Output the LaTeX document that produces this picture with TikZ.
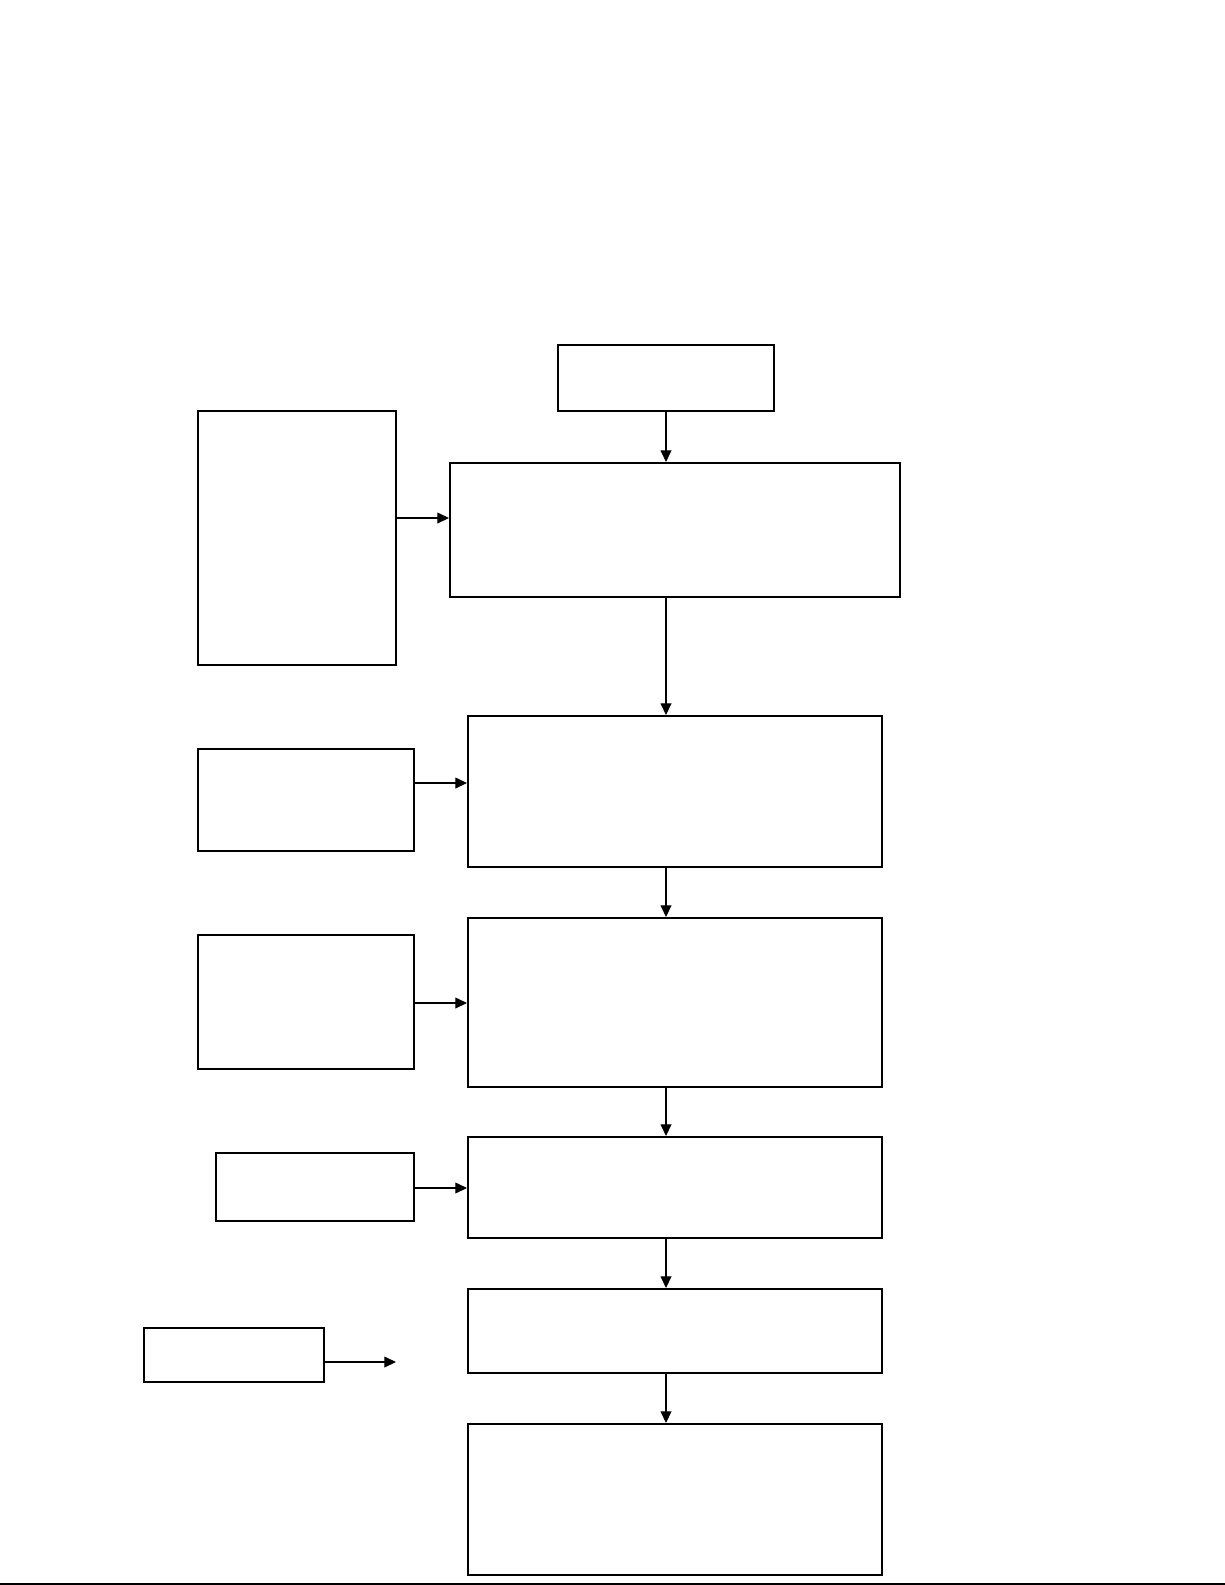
\documentclass[tikz,border=0pt]{standalone}
\usetikzlibrary{arrows.meta,fit}
\begin{document}
\begin{tikzpicture}[x=0.6pt,y=-0.6pt,
  box/.style={draw,line width=1.2pt,inner sep=0pt,rectangle},
  arr/.style={line width=0.7pt,-{Triangle[length=7pt,width=6.5pt]}}]
\useasboundingbox (0,0) rectangle (1225,1585);
% boxes
\node[box,fit={(558,345) (774,411)}] (top) {};
\node[box,fit={(450,463) (900,597)}] (A) {};
\node[box,fit={(198,411) (396,665)}] (L1) {};
\node[box,fit={(468,716) (882,867)}] (B) {};
\node[box,fit={(198,749) (414,851)}] (L2) {};
\node[box,fit={(468,918) (882,1087)}] (C) {};
\node[box,fit={(198,935) (414,1069)}] (L3) {};
\node[box,fit={(468,1137) (882,1238)}] (D) {};
\node[box,fit={(216,1153) (414,1221)}] (L4) {};
\node[box,fit={(468,1289) (882,1373)}] (E) {};
\node[box,fit={(468,1424) (882,1575)}] (F) {};
\node[box,fit={(144,1328) (324,1382)}] (L5) {};
% vertical arrows
\coordinate (vx) at (666,0);
\draw[arr] (top.south) -- (vx |- A.north);
\draw[arr] (vx |- A.south) -- (vx |- B.north);
\draw[arr] (vx |- B.south) -- (vx |- C.north);
\draw[arr] (vx |- C.south) -- (vx |- D.north);
\draw[arr] (vx |- D.south) -- (vx |- E.north);
\draw[arr] (vx |- E.south) -- (vx |- F.north);
% horizontal arrows
\coordinate (h1) at (0,518);
\coordinate (h2) at (0,783);
\coordinate (h3) at (0,1003);
\coordinate (h4) at (0,1188);
\coordinate (h5) at (0,1362);
\coordinate (free) at (396,1362);
\draw[arr] (L1.east |- h1) -- (A.west |- h1);
\draw[arr] (L2.east |- h2) -- (B.west |- h2);
\draw[arr] (L3.east |- h3) -- (C.west |- h3);
\draw[arr] (L4.east |- h4) -- (D.west |- h4);
\draw[arr] (L5.east |- h5) -- (free);
% bottom rule
\coordinate (bl) at (0,1584);
\coordinate (br) at (1225,1584);
\draw[line width=1.2pt] (bl) -- (br);
\end{tikzpicture}
\end{document}
